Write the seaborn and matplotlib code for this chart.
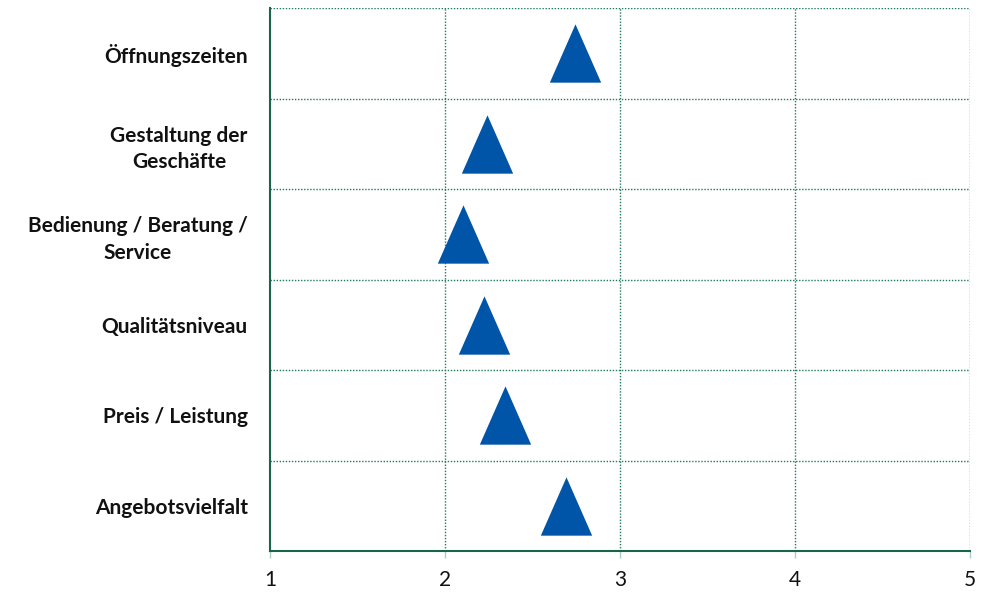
import matplotlib
matplotlib.use("Agg")
import matplotlib.pyplot as plt
from matplotlib.path import Path
import numpy as np
import pandas as pd
import seaborn as sns

# Average ratings per aspect (scale 1 to 5)
categories = [
    "Öffnungszeiten",
    "Gestaltung der\nGeschäfte",
    "Bedienung / Beratung /\nService",
    "Qualitätsniveau",
    "Preis / Leistung",
    "Angebotsvielfalt",
]
ratings = [2.74, 2.24, 2.10, 2.22, 2.34, 2.69]
x_ticks = [1, 2, 3, 4, 5]

df = pd.DataFrame({"Aspekt": categories, "Bewertung": ratings})

sns.set_theme(style="white")
plt.rcParams["font.family"] = ["Lato", "DejaVu Sans"]

grid_col = "#1f7a5a"
spine_col = "#17664a"
mark_col = "#0055a8"

# slightly taller than wide triangle
tri = Path([(0, 1), (-0.88, -1), (0.88, -1), (0, 1)],
           [Path.MOVETO, Path.LINETO, Path.LINETO, Path.CLOSEPOLY])

fig = plt.figure(figsize=(9.92, 5.92), dpi=100)
ax = fig.add_axes([270 / 992, 41 / 592, 700 / 992, 543 / 592])

sns.stripplot(data=df, x="Bewertung", y="Aspekt", order=categories,
              orient="h", jitter=False, marker=tri, size=42,
              color=mark_col, linewidth=0, ax=ax, zorder=4)

ax.set_xlim(1, 5)
ax.set_ylim(len(categories) - 0.5, -0.5)
ax.set_xticks(x_ticks)
ax.set_xticklabels([str(t) for t in x_ticks])
ax.set_xlabel("")
ax.set_ylabel("")

# dotted grid: vertical at integer scores, horizontal between rows
ax.grid(False)
for xv in x_ticks[1:]:
    ax.axvline(xv, color=grid_col, linestyle=(0, (1, 1.2)), linewidth=1.0, zorder=1)
for yv in np.arange(-0.5, len(categories) - 0.5, 1.0):
    ax.axhline(yv, color=grid_col, linestyle=(0, (1, 1.2)), linewidth=1.0, zorder=1)

for side in ["top", "right"]:
    ax.spines[side].set_visible(False)
for side in ["left", "bottom"]:
    ax.spines[side].set_visible(True)
    ax.spines[side].set_color(spine_col)
    ax.spines[side].set_linewidth(1.5)

ax.tick_params(axis="x", which="major", direction="out", length=5, width=1,
               color="#a8cfc0", pad=9, labelsize=15, labelcolor="#111111",
               bottom=True)
ax.tick_params(axis="y", which="both", length=0, pad=16, labelsize=15,
               labelcolor="#111111", left=False)
for lab in ax.get_yticklabels():
    lab.set_fontweight("bold")
    lab.set_multialignment("center")
    lab.set_linespacing(1.4)

fig.savefig("out.png", dpi=100, facecolor="white")
